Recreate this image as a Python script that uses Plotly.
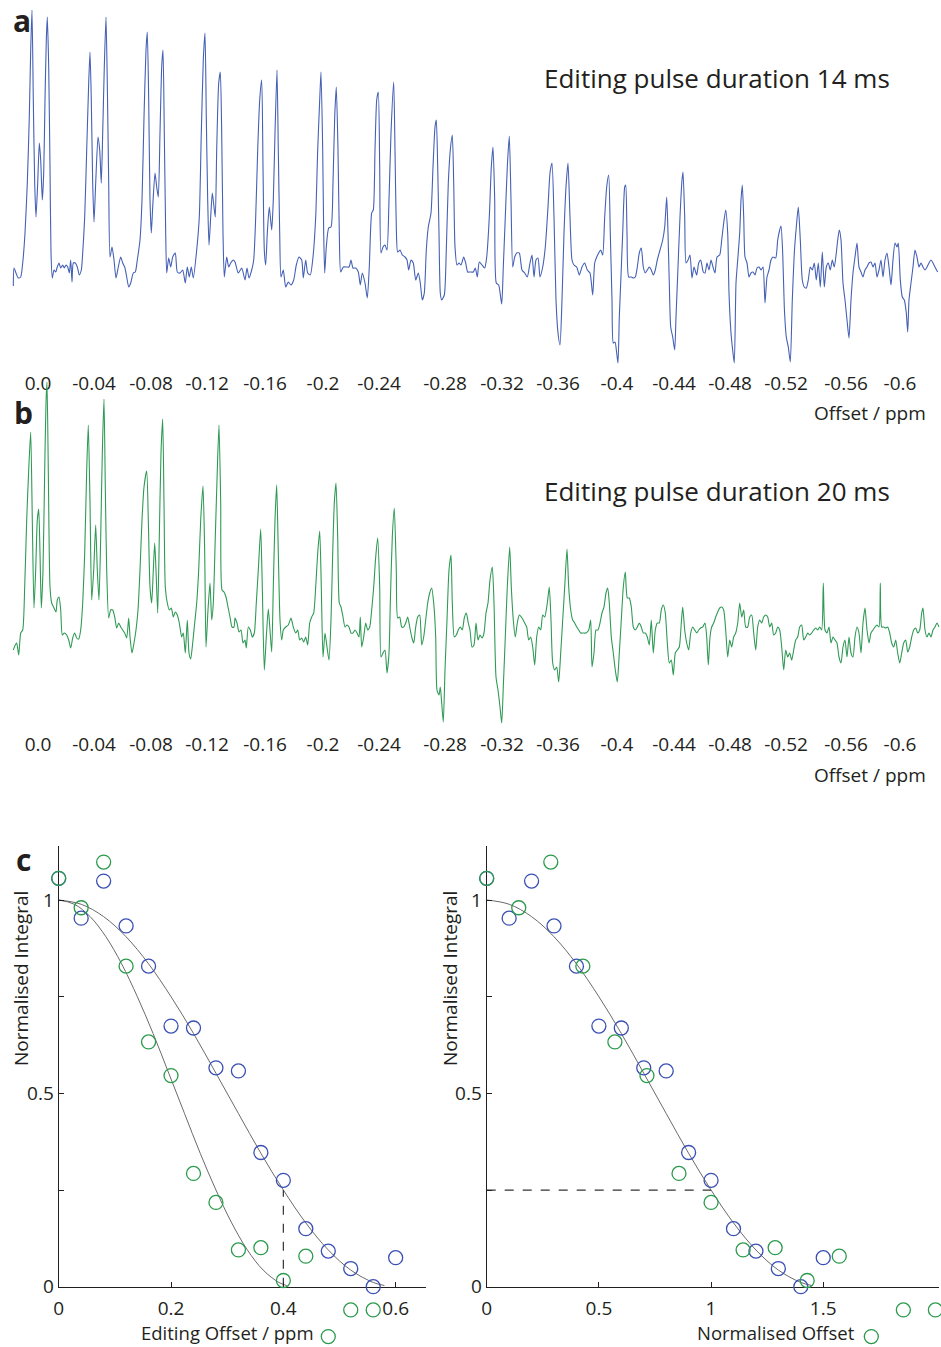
import plotly.graph_objects as go

W, H = 941, 1347
FONT = "Open Sans"
TXT = "#231f20"
BLUE_LINE = "#4560b5"
GREEN_LINE = "#2f9a55"
BLUE_MK = "#3a4fb4"
GREEN_MK = "#2a9a4c"
FIT = "#6a6a6a"

# ---------------- panel a : editing pulse 14 ms (concatenated spectra) ----------------
pos_a = [
    13.3, 14, 16, 18.3, 20.7, 22.7, 25, 27.3, 29.3, 30.7,
    32, 33.3, 34.7, 36, 37.7, 39.3, 40.7, 42.3, 43.7, 45,
    46.3, 47.3, 48.7, 50, 51, 52.3, 54, 55.7, 57.3, 59,
    60.7, 62.7, 64.3, 66, 67.7, 69.3, 70.7, 72, 73.3, 75.3,
    77.3, 79.3, 81.3, 82.7, 84.7, 86.7, 88.7, 90, 91.3, 92.7,
    94, 95.7, 98, 99.7, 101.3, 102.7, 104.3, 106, 107.3, 108.7,
    110, 112, 114, 116, 118.3, 120.7, 122.7, 124.7, 126.7, 128.7,
    130.7, 133.3, 135.3, 137.3, 140, 142, 144, 146, 147.3, 148.7,
    150, 151.3, 152.7, 155, 156.7, 158.3, 160, 161.7, 163, 164.3,
    165.7, 166.7, 168.7, 170.7, 172.7, 175.3, 177.3, 180, 182.7, 185.3,
    187.3, 189.3, 191.3, 193.3, 196.7, 199.3, 201.3, 203.3, 205, 206.3,
    207.7, 209, 210.7, 212.3, 214, 215.3, 216.7, 218.7, 220.3, 221.7,
    223, 224.3, 226.7, 228.7, 230.7, 233.3,
    235, 238.3, 241.7, 245, 247, 249, 251.7, 253.7, 255.7, 257.7,
    259.7, 261.7, 263, 264.3, 265.7, 267.3, 269.3, 271.7, 273.3, 275,
    277, 278.3, 279.7, 281, 283.3, 285.7, 288.3, 291, 293.7, 296.3,
    299, 301.7, 303.3, 305.7, 307.7, 310.3, 313, 315.7, 317.7, 319.7,
    321, 322.7, 323.7, 324.7, 326.3, 328.7, 331, 333, 334.7, 336.3,
    338, 339.3, 340.7, 343.3, 346.3, 349, 351, 353, 355.7, 358.3,
    360.3, 362.3, 365, 367.3, 369.3, 371.7, 373.3, 375, 376.7, 378.3,
    379.7, 381, 383, 385, 387, 389, 391, 393.7, 395, 396.3,
    397.7, 400, 402.3, 405, 407, 408.7, 411, 413.3, 415.7, 418.3,
    420.3, 422.3, 424.3, 426.3, 428.3, 431, 433, 435, 436.3, 437.7,
    439, 440.3, 441.7, 444.3, 446.3, 448.3, 450.3, 452.3, 453.7, 455,
    457, 459, 461, 463.7, 465.7, 467.7,
    470, 473.3, 475.3, 477.3, 479.3, 482, 484.7, 486.7, 489.3, 491.3,
    493, 494.7, 496.3, 498.7, 501.7, 503.3, 505.3, 507.3, 509.3, 511,
    512.7, 514.7, 516.7, 519.3, 522, 524.7, 527.3, 530, 532, 534,
    536, 538, 540, 542.7, 545.3, 548, 550, 552, 554, 556,
    558, 560, 562, 564, 566, 568, 570, 572, 574, 576.7,
    579.3, 582, 584.7, 587.3, 590, 592.7, 594.7, 596.7, 598.7, 600.7,
    602.7, 604.7, 606.7, 608.7, 610.3, 612, 613.3, 615, 616.7, 618,
    619.3, 620.7, 622.7, 624.7, 625.7, 627, 628.7, 631.3, 633.3, 635.3,
    637.3, 639.3, 641.3, 643.3, 645.3, 647.3, 649.3, 651.3, 653.3, 655.3,
    657.3, 660, 662.7, 664.7, 666.7, 668, 669.3, 670.7, 672.7, 674.7,
    676, 678, 680, 682, 683, 684.7, 686, 688, 690, 692,
    694, 696.7, 698.7, 700.7, 703.3,
    705, 707, 709, 711, 713, 715, 717, 719.7, 721.7, 723.7,
    725.7, 727.7, 729, 731, 733, 734.3, 736, 737.7, 739.7, 741,
    742.3, 743.7, 745, 747, 749, 751, 753, 755, 757, 759,
    761, 763, 765, 767, 769, 771, 773, 775.7, 777.7, 779.7,
    781, 782.7, 784.3, 786.3, 788.3, 790.3, 792.3, 794.3, 796.3, 798.3,
    800.3, 802.3, 804.3, 806.3, 808.3, 810.3, 812.3, 814.3, 816.3, 818.3,
    820.3, 822.3, 824.3, 826.3, 828.3, 830.3, 832.3, 834.3, 836.3, 837.7,
    839.3, 841, 843, 845, 847, 849, 851, 853, 855, 857,
    859, 861, 863, 865, 867, 869, 871, 873, 875, 877,
    879, 881, 883, 885, 887, 889, 891, 893, 895, 897,
    898.3, 900.3, 902.3, 904.3, 906.3, 907.7, 909, 911, 913, 915,
    917, 919, 921, 923, 925, 927, 929, 931, 933, 935,
    937.7,
]
int_a = [
    -16, 2, -3, -8, -7, 7, 37, 87, 153, 220,
    260, 170, 87, 53, 87, 127, 110, 70, 97, 170,
    230, 253, 203, 103, 17, -8, 0, -2, 3, 7,
    2, 5, 2, 5, 3, -3, 10, -12, 7, 7,
    3, -5, 0, 17, 53, 120, 187, 218, 170, 87,
    48, 87, 133, 120, 87, 137, 203, 253, 187, 87,
    13, 23, 10, -8, 3, 13, 7, 3, -7, -17,
    -13, -3, -2, 10, 30, 70, 153, 220, 238, 170,
    70, 37, 63, 97, 83, 73, 137, 203, 220, 137,
    37, -3, 12, 3, 13, 17, -2, -3, 0, -13,
    3, -7, 3, -8, 20, 53, 137, 210, 237, 153,
    70, 25, 53, 77, 63, 53, 120, 187, 198, 137,
    37, -7, 13, 3, 7, 10,
    8, -3, 2, -10, 2, -8, 0, 10, 53, 120,
    170, 190, 103, 20, 5, 37, 63, 40, 70, 137,
    200, 120, 37, -7, 0, -17, -12, -15, -10, 5,
    13, 10, -8, 10, -3, -5, 13, 53, 120, 170,
    198, 120, 37, -3, 23, 42, 43, 87, 153, 183,
    120, 37, -2, 3, 3, 3, 10, 2, 2, -2,
    -15, -3, -13, -28, 3, 57, 60, 120, 170, 178,
    103, 17, 23, 25, 20, 70, 137, 188, 120, 43,
    18, 20, 15, 13, 10, 0, 10, 7, -10, -3,
    -13, -30, -23, 20, 43, 57, 103, 143, 150, 103,
    37, -23, -30, -25, 20, 87, 120, 135, 87, 23,
    5, 7, 5, 13, 7, -2,
    -2, -2, 2, -7, 8, 5, 2, 13, 53, 103,
    123, 70, -13, -15, -34, 3, 53, 103, 134, 70,
    3, 13, 17, 17, 0, -3, -7, 7, 15, -7,
    10, 12, -7, 3, 23, 63, 97, 107, 53, -30,
    -63, -75, -30, 37, 83, 107, 53, 10, 5, 3,
    -5, 3, 7, 0, -3, -25, 7, 13, 17, 20,
    15, 53, 83, 95, 37, -30, -73, -72, -83, -93,
    -47, -13, 37, 83, 85, 37, -7, -7, -8, -7,
    3, 17, 22, 3, -3, 0, 3, 0, -5, 0,
    10, 20, 30, 43, 73, 37, -13, -57, -67, -80,
    -47, 3, 53, 90, 98, 53, 7, 10, 15, -8,
    3, -5, 7, 10, -2,
    -3, 7, 0, 10, 3, -3, 13, 15, 30, 47,
    60, 37, -23, -63, -83, -93, -13, 10, 37, 70,
    85, 53, 13, 7, -7, -3, -2, -5, 2, 3,
    0, 3, -33, -7, 0, 10, 13, 12, 30, 40,
    44, 17, -37, -67, -77, -92, -30, 17, 43, 63,
    30, -10, -17, -18, -10, 3, 0, 7, -10, 7,
    -17, 18, -17, 3, 7, 0, 10, 3, 17, 30,
    40, 30, -13, -30, -50, -68, -30, -3, 13, 27,
    3, -2, -7, 0, 3, 7, 8, 3, 7, -7,
    0, 10, -7, 10, 17, 3, -15, 10, 27, 23,
    27, -10, -27, -30, -43, -62, -30, -13, 3, 20,
    13, 3, 7, 3, 0, 3, 7, 10, 7, 3,
    -2,
]

# ---------------- panel b : editing pulse 20 ms ----------------
pos_b = [
    13.3, 15.3, 16.7, 18.7, 20.7, 22.7, 24.7, 26.7, 28.7, 30.7,
    32.3, 34, 35.7, 37.3, 38.7, 40, 41.3, 43, 44.7, 46,
    47, 48.3, 50, 51.7, 54, 56, 57.3, 59, 60.7, 62.3,
    64.3, 66.7, 68.7, 70.7, 72.7, 74.7, 76.7, 78.7, 80.7, 82.7,
    84.7, 86.7, 88.3, 90, 91.7, 93.7, 95.7, 97.3, 99, 100.7,
    102.3, 104, 105.3, 106.7, 108.7, 110.7, 112.7, 114.7, 116.7, 118.7,
    120.7, 122.7, 124.7, 126.7, 128.7, 130, 132, 134, 136, 138,
    140, 142, 144, 146.7, 148.3, 150, 151.7, 153.3, 154.7, 156,
    157.7, 159.3, 161, 162.7, 164, 165.3, 167.3, 169.3, 171.3, 173.3,
    175.3, 177.3, 179.3, 181.7, 183.3, 185.3, 187.3, 189, 190.7, 192.7,
    194.7, 196.7, 198.7, 200.7, 203, 204.7, 206, 208, 210, 211.7,
    213.3, 215.3, 217.3, 219, 220.7, 222, 224, 226, 228, 230,
    232, 234,
    235, 237, 239, 241, 243, 245, 246.3, 248.3, 250.3, 252.3,
    254.3, 256.3, 258.3, 260.7, 262.3, 264.3, 266.3, 268.3, 270, 271.7,
    273.3, 275, 276.7, 278.3, 280, 281.7, 283.3, 285.7, 288.3, 291,
    293.3, 295.7, 297.7, 299.7, 301.7, 303.7, 305.7, 307.7, 309.7, 311.7,
    313.7, 315.7, 317.7, 319.7, 321.3, 323, 325, 327, 329, 331,
    332.7, 334.3, 336, 337.7, 339.3, 341, 343, 345, 347, 349,
    351, 353, 355, 357, 359, 360.3, 361.7, 363.7, 365.7, 367.7,
    369.7, 371.7, 373.7, 375.7, 377.7, 379.7, 381, 383, 385, 387,
    389, 390.3, 392.3, 394.3, 396.3, 397.7, 399.7, 401.7, 403.7, 405.7,
    407.7, 409.7, 411.7, 413.7, 415.7, 417.7, 419.7, 421.7, 423.7, 425.7,
    427.7, 429.7, 431.7, 433.7, 435.7, 437, 439, 440.3, 441.7, 443.3,
    445, 447, 449, 451, 452.3, 454.3, 456.3, 458.3, 460.3, 462.3,
    464.3, 466.3, 468.3,
    470, 472, 474, 476, 478, 480, 482, 484, 486, 488,
    490, 492.3, 494, 496, 498, 500, 501.7, 503.3, 505.3, 507.3,
    509.7, 511.3, 513.3, 515.3, 517.3, 519.3, 522, 524.7, 526.7, 528.7,
    530.7, 532.7, 534.7, 536.7, 538.7, 540.7, 542.7, 544.7, 547.3, 549.3,
    551, 552.7, 554.7, 556.7, 558.7, 560.7, 562.7, 564.7, 567, 568.7,
    570.7, 572.7, 574.7, 576.7, 578.7, 580.7, 583.3, 586, 588.7, 590.7,
    592, 594, 596, 598, 600, 602, 604, 606, 607.7, 609.3,
    611.3, 613.3, 615.3, 617.3, 619.3, 621.3, 623.3, 625.3, 627.3, 629.3,
    631.3, 633.3, 635.3, 637.3, 639.3, 641.3, 643.3, 645.3, 647.3, 649.3,
    651.3, 653.3, 655.3, 657.3, 659.3, 661.3, 663.3, 665.3, 667.3, 669.3,
    671.3, 673.3, 675.3, 677.3, 679.3, 681.3, 682.7, 684.7, 686.7, 688.7,
    690.7, 692.7, 694.7, 696.7, 698.7, 700.7, 702.7,
    705, 706.7, 708.3, 710, 711.7, 713.7, 715.7, 717.7, 719.7, 721.7,
    723.7, 725.7, 727.7, 729.7, 731.7, 733.7, 735.7, 737.7, 739.7, 741.7,
    743.7, 745.7, 747.7, 749.7, 751.7, 753.7, 755.7, 757.7, 759.7, 761.7,
    763.7, 765.7, 767.7, 769.7, 771.7, 773.7, 775.7, 777.7, 779.7, 781.7,
    783.7, 785.7, 787.7, 789.7, 791.7, 793.7, 795.7, 797.7, 799.7, 801.7,
    803.7, 805.7, 807.7, 809.7, 811.7, 813.7, 815.7, 817.7, 819.7, 821.7,
    823.3, 825, 827, 829, 831, 833, 835, 837, 839, 841,
    843, 845, 847, 849, 851, 853, 855, 857, 859, 861,
    863, 865, 867, 869, 871, 873, 875, 877, 879, 880.3,
    881.7, 883.7, 885.7, 887.7, 889.7, 891.7, 893.7, 895.7, 897.7, 899.7,
    901.7, 903.7, 905.7, 907.7, 909.7, 911.7, 913.7, 915.7, 917.7, 919.7,
    921.7, 923, 925, 927, 929, 931, 933, 935, 937, 939,
]
int_b = [
    -10, -5, -3, -15, 7, 10, 53, 120, 170, 208,
    120, 32, 70, 120, 131, 87, 32, 70, 170, 237,
    258, 170, 53, 37, 32, 28, 40, 43, 30, 5,
    7, 5, 0, -8, 2, 7, 2, 1, 10, 37,
    87, 170, 215, 137, 40, 70, 115, 70, 40, 103,
    187, 241, 153, 70, 22, 30, 30, 23, 12, 17,
    13, 10, 7, 2, 22, 3, -13, -3, 10, 30,
    70, 120, 153, 169, 120, 53, 37, 70, 97, 70,
    27, 103, 187, 221, 137, 53, 37, 30, 32, 23,
    28, 25, 17, 3, 7, -13, 20, -13, -19, -3,
    17, 37, 70, 120, 154, 87, -7, 30, 57, 20,
    37, 103, 170, 215, 137, 50, 48, 43, 33, 23,
    13, 13,
    22, 17, 8, 10, -3, 0, -8, 13, 10, 3,
    7, 37, 70, 111, 53, -30, 3, 31, 10, -12,
    53, 120, 155, 87, 20, 0, 10, 13, 15, 22,
    13, 7, 10, 0, 2, -2, 3, -5, 17, 23,
    27, 53, 87, 109, 53, -17, 7, -7, -20, 20,
    87, 137, 157, 103, 37, 33, 23, 13, 15, 13,
    7, 7, 10, 7, 3, 23, -7, 3, 17, 10,
    13, 30, 53, 83, 102, 53, -17, -13, -10, -33,
    -13, 37, 103, 132, 70, 22, 23, 13, 13, 17,
    23, 13, 3, -3, 13, 23, 25, -5, 3, 20,
    37, 47, 52, 37, 3, -50, -55, -47, -63, -82,
    -30, 20, 70, 85, 37, 3, 5, 10, 13, 10,
    22, 27, 17,
    10, -7, -5, 17, 0, 5, 2, 7, 27, 37,
    60, 73, 37, -37, -50, -67, -83, -47, 3, 53,
    93, 53, 20, 3, 17, 25, 22, 17, 13, 0,
    3, -7, -25, 3, 13, 10, 25, 23, 37, 53,
    20, -23, -30, -27, -42, -13, 20, 53, 91, 53,
    30, 20, 17, 13, 10, 7, 7, 7, 10, 20,
    -27, -13, 10, 10, 17, 27, 33, 47, 52, 37,
    3, -13, -30, -42, -13, 20, 53, 68, 42, 42,
    33, 13, 10, 13, 17, 13, 7, 7, 3, -5,
    20, -13, 10, 17, 17, 30, 35, 27, -3, -23,
    -20, -35, -13, -10, -7, 17, 33, 10, -3, -10,
    7, 13, 10, 7, 10, 12, 13,
    17, 3, -25, 3, 13, 17, 23, 28, 32, 33,
    30, 10, -17, 0, -7, 3, 7, 17, 37, 23,
    30, 13, 13, 23, 25, 7, -10, 13, 20, 17,
    23, 25, 23, 13, 17, 5, 7, 13, 10, -7,
    -30, -10, -17, -13, -20, -10, 0, 3, 13, 15,
    0, 3, 7, 5, 7, 10, 12, 10, 13, 10,
    57, 10, 7, 13, -3, 3, 0, -3, -17, -23,
    -7, 0, -17, 3, -13, -17, 3, 13, 7, -13,
    17, 32, 10, -3, 7, 10, 13, 15, 13, 57,
    13, 13, 12, 13, 7, -3, -7, 0, -13, -23,
    -13, -3, 0, -12, -7, 3, 10, 12, 7, 10,
    27, 32, 10, 3, 7, 3, 10, 13, 17, 13,
]

# offset labels under each sub-spectrum
tick_pos = [38, 94, 151, 207, 265, 323, 379, 445, 502, 558, 617, 674, 730, 786, 846, 900]
tick_txt = ["0.0", "-0.04", "-0.08", "-0.12", "-0.16", "-0.2", "-0.24", "-0.28",
            "-0.32", "-0.36", "-0.4", "-0.44", "-0.48", "-0.52", "-0.56", "-0.6"]

# ---------------- panel c : integrals ----------------
offset_blue = [0, 0.04, 0.08, 0.12, 0.16, 0.20, 0.24, 0.28, 0.32, 0.36, 0.40, 0.44, 0.48, 0.52, 0.56, 0.60]
integral_blue = [1.056, 0.953, 1.049, 0.933, 0.829, 0.674, 0.669, 0.566, 0.558, 0.347,
                 0.275, 0.150, 0.092, 0.047, 0.000, 0.075]
offset_green = [0, 0.04, 0.08, 0.12, 0.16, 0.20, 0.24, 0.28, 0.32, 0.36, 0.40, 0.44, 0.48, 0.52, 0.56]
integral_green = [1.056, 0.980, 1.098, 0.829, 0.633, 0.546, 0.293, 0.218, 0.095, 0.101,
                  0.016, 0.079, -0.129, -0.060, -0.060]

# offset (ppm) at which the fitted integral falls to the quarter level
scale_blue = 0.40
scale_green = 0.28
quarter_level = 0.25

# fitted curve
fit_norm = [0, 0.1, 0.2, 0.3, 0.4, 0.5, 0.6, 0.7, 0.8, 0.9, 1.0, 1.1, 1.2, 1.3, 1.4, 1.45]
fit_int = [1.0, 0.989, 0.957, 0.905, 0.835, 0.75, 0.655, 0.552, 0.448, 0.345,
           0.25, 0.165, 0.095, 0.043, 0.011, 0.003]

norm_blue = [o / scale_blue for o in offset_blue]
norm_green = [o / scale_green for o in offset_green]
fit_ppm_blue = [n * scale_blue for n in fit_norm]
fit_ppm_green = [n * scale_green for n in fit_norm]


def px_x(p):
    return p / W


def px_y(p):
    return 1 - p / H


# pixel geometry of panel c (layout only)
C_TOP, C_ZERO, C_ONE = 846, 1286.7, 900.0
PX_PER_UNIT = C_ZERO - C_ONE
Y_TOP = (C_ZERO - C_TOP) / PX_PER_UNIT
Y_LOW = -(H - C_ZERO) / PX_PER_UNIT

fig = go.Figure()

fig.add_trace(go.Scatter(x=pos_a, y=int_a, mode="lines",
                         line=dict(color=BLUE_LINE, width=1.1, shape="spline", smoothing=0.6),
                         xaxis="x", yaxis="y", hoverinfo="skip", cliponaxis=False))
fig.add_trace(go.Scatter(x=pos_b, y=int_b, mode="lines",
                         line=dict(color=GREEN_LINE, width=1.1, shape="spline", smoothing=0.6),
                         xaxis="x2", yaxis="y2", hoverinfo="skip", cliponaxis=False))

mk = dict(symbol="circle-open", size=14)

# left: editing offset
fig.add_trace(go.Scatter(x=fit_ppm_blue, y=fit_int, mode="lines", line=dict(color=FIT, width=1, shape="spline"),
                         xaxis="x3", yaxis="y3"))
fig.add_trace(go.Scatter(x=fit_ppm_green, y=fit_int, mode="lines", line=dict(color=FIT, width=1, shape="spline"),
                         xaxis="x3", yaxis="y3"))
fig.add_trace(go.Scatter(x=[scale_blue, scale_blue], y=[0, quarter_level], mode="lines",
                         line=dict(color="#333333", width=1.2, dash="dash"), xaxis="x3", yaxis="y3"))
fig.add_trace(go.Scatter(x=offset_blue, y=integral_blue, mode="markers",
                         marker=dict(color=BLUE_MK, line=dict(width=1.3, color=BLUE_MK), **mk),
                         xaxis="x3", yaxis="y5", cliponaxis=False))
fig.add_trace(go.Scatter(x=offset_green, y=integral_green, mode="markers",
                         marker=dict(color=GREEN_MK, line=dict(width=1.3, color=GREEN_MK), **mk),
                         xaxis="x3", yaxis="y5", cliponaxis=False))

# right: normalised offset
fig.add_trace(go.Scatter(x=fit_norm, y=fit_int, mode="lines", line=dict(color=FIT, width=1, shape="spline"),
                         xaxis="x4", yaxis="y4"))
fig.add_trace(go.Scatter(x=[0, 1], y=[quarter_level, quarter_level], mode="lines",
                         line=dict(color="#333333", width=1.2, dash="dash"), xaxis="x4", yaxis="y4"))
fig.add_trace(go.Scatter(x=norm_blue, y=integral_blue, mode="markers",
                         marker=dict(color=BLUE_MK, line=dict(width=1.3, color=BLUE_MK), **mk),
                         xaxis="x4", yaxis="y6", cliponaxis=False))
fig.add_trace(go.Scatter(x=norm_green, y=integral_green, mode="markers",
                         marker=dict(color=GREEN_MK, line=dict(width=1.3, color=GREEN_MK), **mk),
                         xaxis="x4", yaxis="y6", cliponaxis=False))

tickfont = dict(family=FONT, size=19, color=TXT)
spec_x = dict(domain=[0, 1], range=[0, W], showgrid=False, zeroline=False, showline=False,
              ticks="", tickmode="array", tickvals=tick_pos, ticktext=tick_txt, tickfont=tickfont,
              fixedrange=True, automargin=False)
c_axis = dict(showgrid=False, zeroline=False, showline=True, linecolor=TXT, linewidth=1.2,
              ticks="inside", ticklen=5, tickwidth=1.2, tickcolor=TXT, tickfont=tickfont, tickmode="array",
              automargin=False)
hidden = dict(visible=False, automargin=False, fixedrange=True)

fig.update_layout(
    width=W, height=H, margin=dict(l=0, r=0, t=0, b=0, autoexpand=False),
    paper_bgcolor="white", plot_bgcolor="rgba(0,0,0,0)", showlegend=False,
    font=dict(family=FONT, color=TXT),
    xaxis=dict(anchor="y", **spec_x),
    yaxis=dict(anchor="x", domain=[px_y(370), 1], range=[-100, 270], **hidden),
    xaxis2=dict(anchor="y2", **spec_x),
    yaxis2=dict(anchor="x2", domain=[px_y(731), px_y(381)], range=[-91, 259], **hidden),
    xaxis3=dict(anchor="y3", domain=[px_x(58.7), px_x(426)], range=[0, 0.654],
                tickvals=[0, 0.2, 0.4, 0.6], ticktext=["0", "0.2", "0.4", "0.6"], ticklabelstandoff=4, **c_axis),
    yaxis3=dict(anchor="x3", domain=[px_y(C_ZERO), px_y(C_TOP)], range=[0, Y_TOP],
                tickvals=[0, 0.25, 0.5, 0.75, 1], ticktext=["0", "", "0.5", "", "1"], **c_axis),
    xaxis4=dict(anchor="y4", domain=[px_x(486.7), px_x(939)], range=[0, 2.016],
                tickvals=[0, 0.5, 1, 1.5], ticktext=["0", "0.5", "1", "1.5"], ticklabelstandoff=4, **c_axis),
    yaxis4=dict(anchor="x4", domain=[px_y(C_ZERO), px_y(C_TOP)], range=[0, Y_TOP],
                tickvals=[0, 0.25, 0.5, 0.75, 1], ticktext=["0", "", "0.5", "", "1"], **c_axis),
    # same vertical scale, extended below zero so that negative integrals stay visible
    yaxis5=dict(anchor="x3", domain=[0, px_y(C_TOP)], range=[Y_LOW, Y_TOP], **hidden),
    yaxis6=dict(anchor="x4", domain=[0, px_y(C_TOP)], range=[Y_LOW, Y_TOP], **hidden),
)


def note(text, x, y, size, xanchor="center", bold=False, angle=0):
    fig.add_annotation(text=f"<b>{text}</b>" if bold else text, x=px_x(x), y=px_y(y),
                       xref="paper", yref="paper", xanchor=xanchor, yanchor="middle",
                       showarrow=False, textangle=angle,
                       font=dict(family=FONT, size=size, color=TXT))


note("a", 22, 20, 30, bold=True)
note("b", 23, 412, 30, bold=True)
note("c", 23, 859, 30, bold=True)
note("Editing pulse duration 14 ms", 542, 78, 26, xanchor="left")
note("Editing pulse duration 20 ms", 542, 491, 26, xanchor="left")
note("Offset / ppm", 928, 413, 19, xanchor="right")
note("Offset / ppm", 928, 775, 19, xanchor="right")
note("Editing Offset / ppm", 227, 1332, 18.5)
note("Normalised Offset", 776, 1332, 18.5)
note("Normalised Integral", 21, 979, 19, angle=-90)
note("Normalised Integral", 450, 979, 19, angle=-90)

fig.write_html("out.html", config=dict(displayModeBar=False))
